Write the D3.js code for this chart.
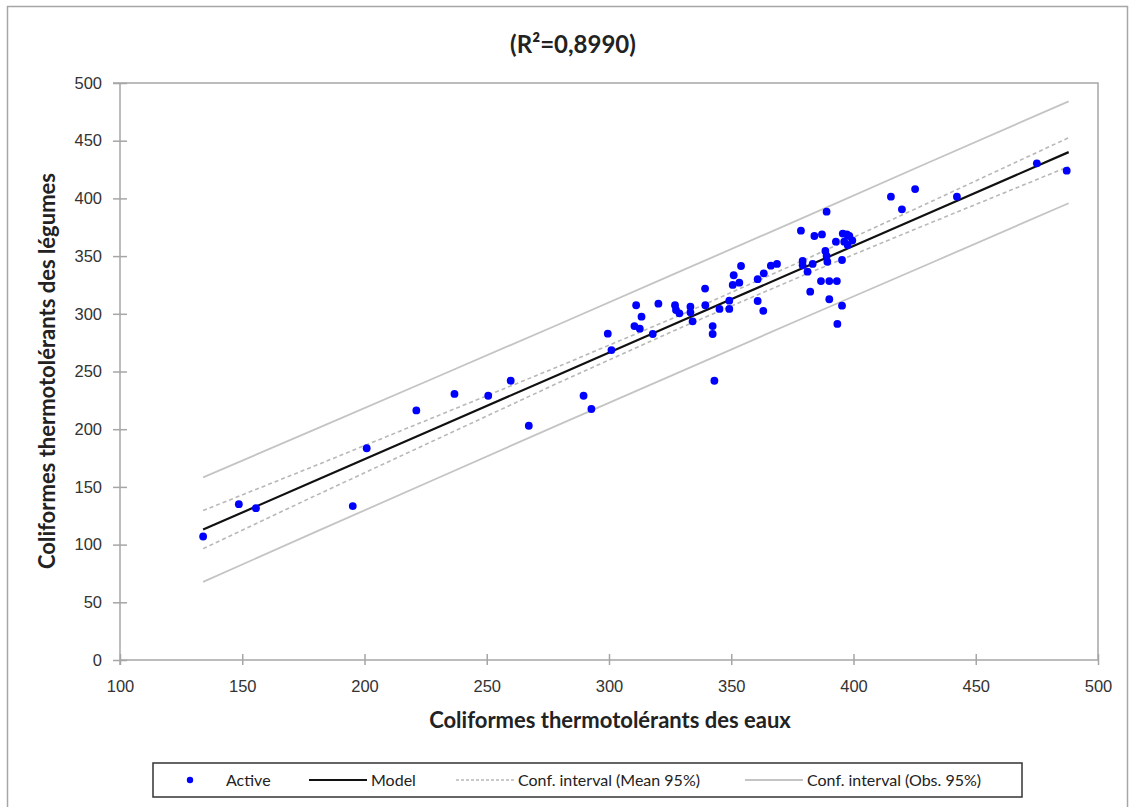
<!DOCTYPE html>
<html>
<head>
<meta charset="utf-8">
<script src="https://cdn.jsdelivr.net/npm/d3@7"></script>
<style>
body { margin: 0; background: #fff; }
svg { display: block; font-family: Lato, "Open Sans", sans-serif; }
.axis path, .axis line { stroke: #a6a6a6; stroke-width: 1.5; }
.axis text { fill: #333; font-size: 16.5px; }
</style>
</head>
<body>
<div id="chartContainer1"></div>
<script>
//data
var titleText = "(R\u00b2=0,8990)";
var xLabel = "Coliformes thermotolérants des eaux";
var yLabel = "Coliformes thermotolérants des légumes";
var xTicks = [100, 150, 200, 250, 300, 350, 400, 450, 500];
var yTicks = [0, 50, 100, 150, 200, 250, 300, 350, 400, 450, 500];

var activeX = [134, 148.6, 155.6, 195.2, 200.9, 221.2, 236.8, 250.6, 259.8, 267.2, 289.6, 292.8, 299.5, 301,
	311.1, 320.2, 313.3, 310.4, 312.6, 317.9, 327, 327.4, 328.8, 333.3, 333.3, 334.2, 339.3, 339.4, 342.4, 342.4,
	343.1, 345.2, 349.2, 349.2, 350.6, 351, 353.3, 354, 360.8, 360.8, 363.1, 363.3, 366.2, 368.7, 378.5, 379.2,
	379.2, 381.2, 382.3, 383.3, 384, 386.7, 387.1, 388.5, 389, 389, 389.3, 390.1, 390.1, 392.8, 393.2, 393.4,
	395.3, 395.3, 395.6, 397.3, 398.3, 396.2, 397.6, 399.5, 415.3, 419.8, 425.2, 442.3, 475, 487.2];
var activeY = [107, 135, 131.6, 133.4, 183.5, 216.3, 230.6, 229, 242, 203, 229, 217.5, 282.8, 268.6,
	307.4, 308.8, 297.5, 289.4, 287.1, 282.5, 307.4, 303.3, 300.4, 306.2, 301.3, 293.5, 321.9, 307.4, 289.4, 282.5,
	242, 304.2, 304.2, 311.4, 325, 333.4, 327, 341.4, 330, 311.1, 302.6, 335.1, 341.7, 343.2, 372, 345.8,
	342, 336.5, 319.2, 343.2, 367.4, 328.4, 368.8, 354.4, 388.5, 350.1, 345.1, 328.4, 312.6, 362.5, 328.4, 291.2,
	307, 346.6, 369.5, 368.8, 367.4, 362.5, 359.6, 363.5, 401.5, 390.5, 408.1, 401.5, 430.4, 424];

//model line and confidence bands, sampled along x
var bandX = [134, 180, 230, 280, 330, 380, 430, 488];
var modelY = [113, 155.5, 201.7, 247.9, 294.1, 340.3, 386.5, 440.1];
var meanUpper = [129.5, 168.5, 211.7, 254.9, 299.6, 346.8, 395.5, 452.6];
var meanLower = [96.5, 142.5, 191.7, 240.9, 288.6, 333.8, 377.5, 427.6];
var obsUpper = [158.3, 200, 245.7, 291.4, 337.6, 383.8, 430.5, 484.1];
var obsLower = [67.7, 111, 157.7, 204.4, 250.6, 296.8, 342.5, 395.8];

var legendLabels = ["Active", "Model", "Conf. interval (Mean 95%)", "Conf. interval (Obs. 95%)"];


var W = 1131, H = 807;
var svg = d3.select("#chartContainer1")
	.append("svg")
	.attr("width", W)
	.attr("height", H);

//outer frame
svg.append("rect")
	.attr("x", 7.5).attr("y", 6.5)
	.attr("width", 1120).attr("height", 840)
	.attr("fill", "none")
	.attr("stroke", "#a6a6a6")
	.attr("stroke-width", 1.5);

var x = d3.scaleLinear().domain([100, 500]).range([120, 1098]);
var y = d3.scaleLinear().domain([0, 500]).range([660, 83]);

//plot area border (top and right)
svg.append("path")
	.attr("d", "M113," + y(500) + "H" + x(500) + "V" + y(0))
	.attr("fill", "none")
	.attr("stroke", "#a6a6a6")
	.attr("stroke-width", 1.5);

// axes, ticks cross the axis line
var xAxis = d3.axisBottom(x).tickValues(xTicks).tickSize(0).tickFormat(d3.format("d"));
var yAxis = d3.axisLeft(y).tickValues(yTicks).tickSize(0).tickFormat(d3.format("d"));

var gx = svg.append("g")
	.attr("class", "x axis")
	.attr("transform", "translate(0," + y(0) + ")")
	.call(xAxis);
gx.select(".domain").attr("d", "M" + x(100) + ",0H" + x(500));
gx.selectAll(".tick line").attr("y1", -6).attr("y2", 5);
gx.selectAll(".tick text").attr("y", 20);

var gy = svg.append("g")
	.attr("class", "y axis")
	.attr("transform", "translate(" + x(100) + ",0)")
	.call(yAxis);
gy.select(".domain").attr("d", "M0," + y(500) + "V" + (y(0) + 5));
gy.selectAll(".tick line").attr("x1", -7).attr("x2", 7);
gy.selectAll(".tick text").attr("x", -18);

//bands
var line = d3.line()
	.x(function(d, i) { return x(bandX[i]); })
	.y(function(d) { return y(d); });

[obsUpper, obsLower].forEach(function(arr) {
	svg.append("path")
		.datum(arr)
		.attr("d", line)
		.attr("fill", "none")
		.attr("stroke", "#c4c4c4")
		.attr("stroke-width", 1.8);
});

[meanUpper, meanLower].forEach(function(arr) {
	svg.append("path")
		.datum(arr)
		.attr("d", line)
		.attr("fill", "none")
		.attr("stroke", "#b8b8b8")
		.attr("stroke-width", 1.6)
		.attr("stroke-dasharray", "4,3");
});

svg.append("path")
	.datum(modelY)
	.attr("d", line)
	.attr("fill", "none")
	.attr("stroke", "#111")
	.attr("stroke-width", 2.2);

//points
svg.append("g")
	.selectAll("circle")
	.data(activeX)
	.join("circle")
	.attr("cx", function(d) { return x(d); })
	.attr("cy", function(d, i) { return y(activeY[i]); })
	.attr("r", 3.9)
	.attr("fill", "#0000ff");

//titles
svg.append("text")
	.attr("x", 573).attr("y", 53)
	.attr("text-anchor", "middle")
	.attr("font-size", 24).attr("font-weight", "bold")
	.attr("fill", "#222")
	.text(titleText);

svg.append("text")
	.attr("x", 610).attr("y", 728)
	.attr("text-anchor", "middle")
	.attr("font-size", 22).attr("font-weight", "bold")
	.attr("fill", "#222")
	.text(xLabel);

svg.append("text")
	.attr("transform", "translate(55," + 371 + ") rotate(-90)")
	.attr("text-anchor", "middle")
	.attr("font-size", 22).attr("font-weight", "bold")
	.attr("fill", "#222")
	.text(yLabel);

//legend
var lg = svg.append("g").attr("transform", "translate(153,763)");
lg.append("rect")
	.attr("width", 869).attr("height", 34)
	.attr("fill", "#fff")
	.attr("stroke", "#333")
	.attr("stroke-width", 1.5);

var legX = [37, 156, 303, 592];
var legStyle = [
	null,
	{stroke: "#111", w: 2.2, dash: null},
	{stroke: "#b8b8b8", w: 1.6, dash: "3,2"},
	{stroke: "#c4c4c4", w: 1.8, dash: null}
];
legendLabels.forEach(function(lab, i) {
	var g = lg.append("g").attr("transform", "translate(" + legX[i] + ",17)");
	var tx;
	if (i == 0) {
		g.append("circle").attr("r", 3.2).attr("fill", "#0000ff");
		tx = 36;
	} else {
		g.append("line")
			.attr("x1", 0).attr("x2", 58)
			.attr("stroke", legStyle[i].stroke)
			.attr("stroke-width", legStyle[i].w)
			.attr("stroke-dasharray", legStyle[i].dash);
		tx = 62;
	}
	g.append("text")
		.attr("x", tx).attr("y", 5.5)
		.attr("font-size", 16)
		.attr("fill", "#222")
		.text(lab);
});
</script>
</body>
</html>
